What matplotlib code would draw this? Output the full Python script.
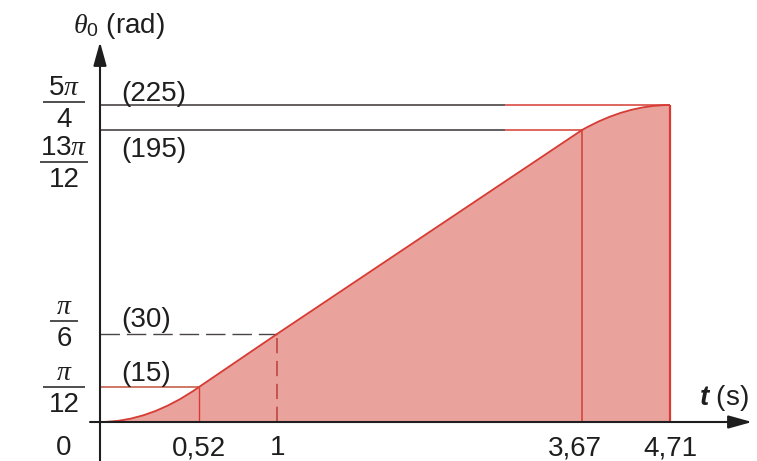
import matplotlib.pyplot as plt
import numpy as np
from matplotlib.path import Path
from matplotlib.patches import PathPatch
from matplotlib.transforms import blended_transform_factory, offset_copy

plt.rcParams['font.family'] = 'Liberation Sans'
plt.rcParams['mathtext.fontset'] = 'custom'
plt.rcParams['mathtext.rm'] = 'Liberation Sans'
plt.rcParams['mathtext.it'] = 'Liberation Serif:italic'
plt.rcParams['mathtext.sf'] = 'Liberation Sans:italic:bold'

# angle profile: key instants (s) and angles (deg)
t_keys = [0, 0.52, 1, 3.67, 4.71]
theta_keys = [0, 15, 30, 195, 225]
t_labels = ['0,52', '1', '3,67', '4,71']
theta_values = [225, 195, 30, 15]
theta_nums = [r'$5\pi$', r'$13\pi$', r'$\pi$', r'$\pi$']
theta_dens = ['4', '12', '6', '12']
deg_labels = ['(225)', '(195)', '(30)', '(15)']

# the sketch is not to scale: piecewise-linear axes through the key values
T_BREAKS = [-0.6, 0, 0.52, 1, 3.67, 4.71, 5.6]
X_PIX = [0, 100, 199, 277, 582, 670, 757]
TH_BREAKS = [-20, 0, 15, 30, 195, 225, 270]
Y_PIX = [0, 39, 74, 127, 331, 356, 461]

W, H = 757, 461
FILL = '#eaa29c'
RED = '#d63c34'
INK = '#1e1e1e'
FS = 20


def t_fwd(t):
    return np.interp(t, T_BREAKS, X_PIX)


def t_inv(x):
    return np.interp(x, X_PIX, T_BREAKS)


def th_fwd(a):
    return np.interp(a, TH_BREAKS, Y_PIX)


def th_inv(y):
    return np.interp(y, Y_PIX, TH_BREAKS)


fig = plt.figure(figsize=(W / 100, H / 100), dpi=100)
ax = fig.add_axes([0, 0, 1, 1])
ax.set_xscale('function', functions=(t_fwd, t_inv))
ax.set_yscale('function', functions=(th_fwd, th_inv))
ax.set_xlim(T_BREAKS[0], T_BREAKS[-1])
ax.set_ylim(TH_BREAKS[0], TH_BREAKS[-1])
ax.axis('off')

# profile: parabola, straight ramp, parabola
t0, t1, t2, t3, t4 = t_keys
a0, a1, a2, a3, a4 = theta_keys
verts = [(t0, a0), ((t0 + t1) / 2, a0), (t1, a1), (t2, a2), (t3, a3),
         ((t3 + t4) / 2, a4), (t4, a4)]
codes = [Path.MOVETO, Path.CURVE3, Path.CURVE3, Path.LINETO, Path.LINETO,
         Path.CURVE3, Path.CURVE3]
area = Path(verts + [(t4, a0), (t0, a0)], codes + [Path.LINETO, Path.CLOSEPOLY])
ax.add_patch(PathPatch(area, facecolor=FILL, edgecolor='none', zorder=1))
ax.add_patch(PathPatch(Path(verts, codes), facecolor='none', edgecolor=RED,
                       lw=1.3, zorder=3))

# guide lines
t_split = 3.0
ax.hlines([a4, a3], t0, t_split, color='#3a3434', lw=1.1, zorder=2)
ax.hlines(a4, t_split, t4, color=RED, lw=1.1, zorder=2)
ax.hlines(a3, t_split, t3, color=RED, lw=1.1, zorder=2)
ax.hlines(a2, t0, t2, color='#4a4444', lw=1.0, linestyles=(0, (14, 5)), zorder=2)
ax.hlines(a1, t0, t1, color='#c2523c', lw=1.1, zorder=2)
ax.vlines(t1, a0, a1, color=RED, lw=1.0, zorder=2)
ax.vlines(t2, a0, a2, color='#b8403a', lw=1.1, linestyles=(0, (10, 5)), zorder=2)
ax.vlines(t3, a0, a3, color=RED, lw=1.1, zorder=2)
ax.vlines(t4, a0, a4, color=RED, lw=1.6, zorder=3)

# axes with arrow heads
arrow = dict(arrowstyle='-|>,head_length=0.72,head_width=0.2', color=INK,
             lw=1.5, mutation_scale=20, shrinkA=0, shrinkB=0)
x_data_y_axes = blended_transform_factory(ax.transData, ax.transAxes)
x_axes_y_data = blended_transform_factory(ax.transAxes, ax.transData)
ax.annotate('', xy=(0, 1 - 42 / H), xycoords=x_data_y_axes,
            xytext=(0, 0), textcoords=x_data_y_axes, arrowprops=arrow, zorder=4)
ax.annotate('', xy=(752 / W, 0), xycoords=x_axes_y_data,
            xytext=(90 / W, 0), textcoords=x_axes_y_data, arrowprops=arrow, zorder=4)

# angle labels as stacked fractions
lab_x = 64 / W
frac_shift = [-3, 32, -13, 0]      # px, positive = down
bar_half = [21, 24, 14, 21]
for val, num, den, dy, hw in zip(theta_values, theta_nums, theta_dens,
                                 frac_shift, bar_half):
    bar_tr = offset_copy(x_axes_y_data, fig=fig, y=-dy, units='dots')
    ax.plot([lab_x - hw / W, lab_x + hw / W], [val, val], color=INK, lw=1.1,
            transform=bar_tr, solid_capstyle='butt')
    ax.text(lab_x, val, num, transform=offset_copy(x_axes_y_data, fig=fig,
            y=-dy + 7, units='dots'), ha='center', va='baseline',
            fontsize=FS, color=INK)
    ax.text(lab_x, val, den, transform=offset_copy(x_axes_y_data, fig=fig,
            y=-dy - 25, units='dots'), ha='center', va='baseline',
            fontsize=FS, color=INK)
ax.text(lab_x, a0, '0', transform=offset_copy(x_axes_y_data, fig=fig,
        y=-33, units='dots'), ha='center', va='baseline', fontsize=FS, color=INK)

# degree values next to the axis
deg_shift = [-4, 27, -7, -6]
for val, lab, dy in zip(theta_values, deg_labels, deg_shift):
    ax.text(121 / W, val, lab, transform=offset_copy(x_axes_y_data, fig=fig,
            y=-dy, units='dots'), ha='left', va='baseline', fontsize=FS, color=INK)

# time labels under the axis
t_shift = [0, 1, -7, 0]
y_lab_tr = offset_copy(ax.transData, fig=fig, y=-33, units='dots')
for t, lab, dx in zip(t_keys[1:], t_labels, t_shift):
    ax.text(t, a0, lab, transform=offset_copy(y_lab_tr, fig=fig, x=dx, units='dots'),
            ha='center', va='baseline', fontsize=FS, color=INK)

# axis titles
ax.text(73 / W, 1 - 33 / H, r'$\theta_0$ (rad)', transform=ax.transAxes,
        ha='left', va='baseline', fontsize=FS, color=INK)
ax.text(699 / W, 1 - 405 / H, r'$\mathsf{t}$ (s)', transform=ax.transAxes,
        ha='left', va='baseline', fontsize=FS, color=INK)

fig.savefig('out.png', dpi=100, facecolor='white')
